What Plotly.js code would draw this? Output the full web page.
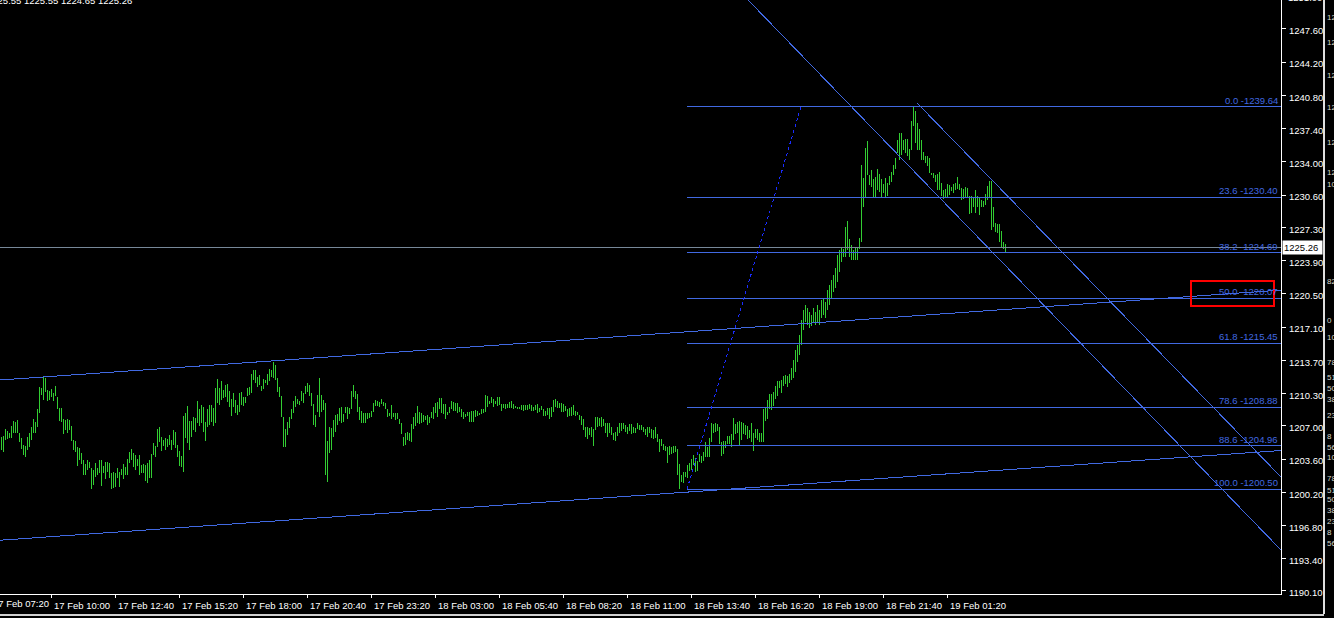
<!DOCTYPE html>
<html>
<head>
<meta charset="utf-8">
<script src="https://cdn.plot.ly/plotly-3.0.1.min.js"></script>
<style>
  html, body { margin: 0; padding: 0; background: #000; }
  #chart { width: 1334px; height: 618px; }
  .main-svg path { shape-rendering: crispEdges; }
</style>
</head>
<body>
<div id="chart"></div>
<script>
// ---------------- DATA ----------------
const highs = [
1205.85,1205.95,1206.67,1206.47,1206.26,1206.98,1207.49,1207.39,1207.59,1206.26,
1205.75,1205.04,1204.93,1205.85,1206.26,1206.88,1207.69,1207.39,1208.72,1210.97,
1210.87,1211.99,1211.89,1210.66,1210.56,1210.77,1210.36,1211.07,1209.95,1208.82,
1208.82,1207.69,1207.59,1207.69,1207.59,1206.98,1205.55,1205.44,1204.83,1204.73,
1204.21,1203.50,1203.09,1203.50,1203.30,1202.68,1202.48,1203.19,1202.68,1203.50,
1203.50,1202.89,1203.30,1203.30,1203.19,1202.17,1202.27,1202.17,1202.68,1202.27,
1202.58,1203.09,1202.79,1203.60,1204.32,1204.62,1204.21,1204.01,1203.60,1204.01,
1202.99,1203.09,1202.99,1203.19,1203.50,1204.11,1205.24,1204.93,1206.67,1206.88,
1205.85,1205.55,1205.75,1205.65,1206.06,1205.55,1206.57,1206.37,1205.04,1204.42,
1203.91,1208.00,1208.31,1209.03,1207.49,1207.49,1207.90,1207.80,1209.54,1208.72,
1209.13,1208.92,1207.39,1208.72,1209.13,1209.13,1208.82,1210.87,1211.79,1210.87,
1211.58,1210.66,1211.17,1211.28,1210.56,1209.74,1210.36,1209.64,1209.13,1210.36,
1210.46,1209.95,1209.95,1210.87,1210.97,1212.30,1212.71,1212.71,1211.99,1212.20,
1211.07,1211.79,1211.69,1212.30,1212.81,1212.71,1213.53,1213.22,1211.89,1210.97,
1210.05,1207.90,1206.67,1207.39,1207.90,1208.72,1209.54,1210.05,1209.74,1209.54,
1210.56,1210.36,1211.07,1211.38,1211.17,1210.36,1209.23,1208.10,1210.15,1211.89,
1210.15,1209.64,1209.33,1205.44,1206.88,1206.77,1207.59,1208.10,1208.21,1208.82,
1208.92,1208.21,1208.92,1208.92,1208.82,1210.56,1211.17,1210.56,1210.25,1208.92,
1208.51,1208.31,1208.31,1208.31,1208.31,1208.51,1209.33,1209.64,1209.54,1209.44,
1209.74,1209.44,1209.33,1208.72,1208.31,1209.13,1208.31,1208.31,1208.31,1207.69,
1207.29,1205.85,1206.26,1206.37,1206.26,1207.18,1207.90,1208.31,1209.03,1208.41,
1208.31,1208.10,1208.00,1208.10,1207.90,1208.41,1208.92,1209.33,1209.44,1209.84,
1209.84,1209.23,1209.23,1208.41,1208.92,1209.54,1209.44,1209.33,1209.33,1208.92,
1208.72,1208.41,1208.21,1208.41,1208.41,1208.51,1208.51,1208.62,1208.51,1208.31,
1208.72,1208.72,1210.15,1210.05,1209.54,1209.95,1209.74,1209.54,1209.95,1209.95,
1209.23,1209.23,1209.23,1209.23,1209.44,1209.54,1209.23,1209.03,1208.92,1208.92,
1209.13,1209.13,1209.13,1209.13,1209.23,1209.13,1208.92,1209.13,1209.23,1208.82,
1209.03,1208.72,1208.51,1208.82,1208.82,1208.92,1209.64,1209.74,1209.54,1209.33,
1209.33,1209.23,1209.03,1208.72,1208.82,1208.92,1209.13,1208.51,1208.41,1208.10,
1208.00,1207.69,1206.88,1206.88,1206.77,1206.88,1206.67,1207.90,1207.90,1207.80,
1207.90,1207.69,1207.29,1207.29,1207.29,1206.88,1206.26,1206.37,1206.88,1207.29,
1207.29,1207.29,1207.08,1206.88,1207.18,1207.18,1206.88,1206.77,1207.29,1207.08,
1207.08,1206.88,1206.67,1206.88,1206.88,1206.67,1206.57,1206.88,1206.16,1205.65,
1205.65,1205.14,1204.93,1204.83,1204.93,1204.83,1204.93,1204.93,1204.62,1203.09,
1201.97,1202.27,1202.27,1202.99,1203.19,1203.60,1204.01,1203.70,1203.40,1204.11,
1203.91,1204.32,1205.34,1204.83,1205.75,1207.29,1207.18,1207.29,1207.18,1206.88,
1205.34,1205.44,1205.44,1205.96,1205.96,1206.16,1207.80,1207.18,1207.39,1207.49,
1207.39,1207.29,1207.08,1206.98,1206.57,1207.29,1206.26,1206.67,1206.67,1206.26,
1206.26,1208.72,1208.92,1209.64,1210.25,1210.25,1210.46,1211.07,1211.58,1211.58,
1211.69,1212.10,1212.20,1212.10,1212.30,1212.91,1213.73,1214.75,1215.27,1216.29,
1217.82,1218.85,1219.36,1219.05,1218.64,1218.33,1219.05,1218.64,1219.36,1218.85,
1219.87,1220.07,1219.66,1220.89,1221.40,1221.92,1222.43,1223.14,1224.47,1224.99,
1225.19,1225.09,1227.34,1227.95,1226.11,1225.50,1224.99,1225.29,1225.19,1226.21,
1233.68,1232.35,1235.42,1236.14,1232.66,1233.17,1232.25,1232.45,1233.27,1232.76,
1232.25,1231.74,1232.35,1231.84,1232.55,1232.96,1233.68,1234.40,1236.24,1236.95,
1236.95,1236.24,1236.34,1236.34,1235.32,1238.18,1239.64,1239.20,1237.98,1237.36,
1236.24,1235.01,1234.60,1234.60,1234.40,1232.86,1232.86,1232.66,1232.76,1232.96,
1231.84,1231.12,1231.22,1231.74,1231.63,1231.43,1231.74,1231.84,1232.45,1231.74,
1231.33,1231.22,1231.43,1231.33,1230.51,1230.51,1230.41,1231.12,1230.51,1230.41,
1230.10,1229.99,1230.71,1231.53,1232.04,1232.04,1229.38,1227.75,1227.65,1227.65,
1226.93,1225.80,1225.55
];
const lows = [
1204.52,1204.32,1205.55,1205.65,1205.75,1205.75,1206.26,1206.26,1206.26,1205.34,
1204.62,1204.01,1203.81,1204.52,1204.83,1205.55,1206.26,1206.26,1206.88,1208.31,
1210.15,1209.64,1210.46,1209.54,1209.64,1209.95,1209.54,1210.05,1208.72,1207.49,
1207.39,1206.16,1206.57,1206.26,1206.57,1205.44,1204.52,1204.32,1202.89,1203.50,
1203.09,1201.97,1201.97,1202.48,1202.68,1200.53,1200.94,1201.76,1201.97,1202.17,
1200.84,1202.17,1201.56,1202.27,1201.66,1200.53,1200.64,1200.74,1201.66,1200.74,
1201.97,1201.56,1201.97,1201.97,1203.19,1203.50,1202.79,1202.48,1202.89,1201.97,
1202.17,1202.17,1201.35,1201.15,1201.66,1201.66,1204.01,1203.81,1204.83,1205.34,
1204.42,1204.93,1204.52,1204.83,1205.04,1204.52,1205.04,1204.73,1203.81,1202.89,
1202.79,1202.27,1205.75,1205.24,1204.52,1205.85,1206.57,1206.37,1207.29,1206.98,
1207.29,1206.37,1205.44,1206.88,1207.08,1207.39,1206.98,1207.29,1209.33,1209.13,
1209.64,1209.84,1209.95,1209.44,1208.92,1208.00,1208.92,1208.31,1208.10,1208.41,
1209.13,1209.03,1209.33,1210.05,1210.15,1210.36,1211.69,1211.38,1210.97,1211.17,
1210.56,1210.77,1211.38,1211.17,1211.58,1211.99,1211.89,1211.69,1210.46,1209.95,
1207.90,1204.83,1204.83,1206.06,1206.77,1207.69,1208.31,1208.92,1209.23,1209.13,
1209.54,1209.33,1210.25,1210.46,1210.05,1209.03,1207.08,1206.88,1208.41,1207.90,
1208.41,1208.62,1201.97,1201.25,1204.21,1204.52,1205.85,1206.37,1207.08,1207.49,
1207.29,1207.39,1208.31,1207.69,1208.21,1208.72,1209.95,1209.74,1208.41,1207.59,
1207.29,1207.29,1207.29,1207.69,1207.80,1207.90,1208.41,1209.03,1209.03,1208.92,
1209.23,1209.03,1208.72,1207.90,1208.00,1207.69,1207.90,1207.59,1207.69,1207.18,
1206.16,1204.93,1205.04,1205.55,1205.44,1205.34,1206.67,1206.98,1207.29,1207.18,
1207.29,1207.39,1207.59,1207.08,1207.29,1207.80,1207.69,1208.31,1207.90,1208.72,
1208.31,1208.21,1207.69,1208.10,1208.31,1208.72,1208.51,1208.51,1208.31,1208.41,
1207.90,1207.69,1207.90,1208.00,1207.39,1207.39,1207.39,1207.90,1208.00,1208.10,
1208.21,1208.31,1208.41,1208.92,1209.23,1209.33,1208.92,1209.23,1209.03,1209.13,
1208.51,1208.82,1208.72,1208.82,1208.82,1208.82,1208.72,1208.82,1208.72,1208.72,
1208.62,1208.51,1208.62,1208.62,1208.72,1208.51,1208.51,1208.62,1208.31,1208.41,
1208.62,1208.00,1208.00,1208.10,1207.69,1207.90,1208.41,1208.92,1208.82,1208.82,
1208.41,1208.41,1208.51,1207.90,1208.00,1208.00,1208.10,1208.00,1208.10,1207.59,
1207.08,1206.57,1205.85,1205.65,1206.06,1205.85,1204.93,1206.57,1206.88,1206.98,
1206.88,1206.98,1206.26,1205.85,1206.26,1206.06,1205.55,1205.44,1205.96,1206.26,
1206.47,1206.67,1206.37,1206.16,1206.47,1206.16,1206.26,1206.26,1206.67,1206.57,
1206.57,1206.37,1206.06,1205.85,1206.26,1205.75,1205.65,1205.75,1205.34,1204.32,
1204.93,1204.52,1204.42,1203.19,1204.01,1204.11,1204.21,1204.32,1201.97,1200.50,
1201.25,1201.15,1201.76,1201.66,1202.38,1202.48,1202.99,1202.27,1202.38,1203.30,
1203.19,1203.40,1203.81,1203.81,1203.81,1205.34,1206.26,1206.37,1206.47,1205.14,
1203.91,1204.11,1204.73,1205.14,1205.14,1204.83,1205.55,1206.16,1206.26,1204.93,
1205.55,1206.16,1206.06,1205.65,1205.75,1205.34,1204.42,1205.75,1205.55,1205.34,
1205.34,1205.34,1207.49,1207.69,1208.72,1208.62,1209.03,1209.74,1210.05,1210.87,
1210.36,1211.07,1211.28,1210.97,1211.38,1211.69,1211.89,1212.50,1213.53,1214.24,
1215.27,1216.80,1217.62,1217.31,1217.00,1217.21,1217.62,1217.31,1217.62,1217.31,
1218.03,1218.33,1218.03,1218.85,1219.36,1220.07,1220.69,1221.10,1221.71,1222.73,
1223.76,1224.27,1224.27,1224.99,1224.27,1223.96,1223.96,1223.96,1223.96,1225.09,
1225.80,1229.38,1230.30,1232.66,1231.63,1231.43,1230.41,1230.41,1231.12,1230.92,
1230.41,1230.82,1230.41,1230.51,1231.63,1231.94,1232.66,1233.27,1234.91,1234.19,
1234.70,1235.21,1234.91,1234.60,1234.19,1235.21,1237.67,1235.93,1235.21,1235.21,
1234.19,1234.19,1233.88,1233.57,1232.86,1232.66,1232.35,1231.94,1231.12,1231.12,
1230.51,1230.20,1230.30,1230.41,1230.61,1231.02,1230.82,1231.12,1231.22,1231.12,
1230.10,1230.20,1230.30,1230.41,1228.67,1228.77,1229.38,1228.77,1229.38,1228.57,
1229.38,1229.38,1229.59,1230.10,1230.41,1227.03,1227.34,1226.82,1226.72,1225.80,
1225.29,1225.09,1224.65
];

const timeLabels = ['17 Feb 10:00','17 Feb 12:40','17 Feb 15:20','17 Feb 18:00','17 Feb 20:40',
  '17 Feb 23:20','18 Feb 03:00','18 Feb 05:40','18 Feb 08:20','18 Feb 11:00','18 Feb 13:40',
  '18 Feb 16:20','18 Feb 19:00','18 Feb 21:40','19 Feb 01:20'];
const cutLabel = '17 Feb 07:20';
const firstLabelBar = 25;
const barsPerLabel = 32;

const priceTicks = [1190.10,1193.40,1196.80,1200.20,1203.60,1207.00,1210.30,1213.70,1217.10,
  1220.50,1223.90,1227.30,1230.60,1234.00,1237.40,1240.80,1244.20,1247.60];
const cutTopTick = '1251.00';

const fibLevels = [0.0, 23.6, 38.2, 50.0, 61.8, 78.6, 88.6, 100.0];
const fibHigh = 1239.64;
const fibLow = 1200.50;
const fibLowBar = 343;
const fibHighBar = 400;

const bidPrice = 1225.26;
const ohlcText = '1225.55 1225.55 1224.65 1225.26';

// trend lines: [bar, price] anchor pairs
const upperChannelBars = [-0.5, 640];
const upperChannelPrices = [1211.68, 1220.88];
const lowerChannelBars = [-0.5, 640];
const lowerChannelPrices = [1195.29, 1204.47];
const downLineABars = [373.5, 640];
const downLineAPrices = [1250.56, 1194.29];
const downLineBBars = [458, 640];
const downLineBPrices = [1240.02, 1201.76];

// highlight box (bars, prices)
const boxBars = [595, 636.5];
const boxPrices = [1219.26, 1221.81];

// neighbouring window fragments (text, row)
const sideTexts = ['12','12','12','12','12','12','10','82','0','10','78','51','50','38','23','8','56','10','78','51','50','38','23','8','56'];
const sideRows  = [18,42,75,108,142,172,185,282,320,337,362,377,388,399,416,436,447,458,478,490,500,510,521,532,543];

// ---------------- BUILD ----------------
const xRange = [-0.5, 640];
const yRange = [1189.79, 1250.556];
const FONT = 'Liberation Sans, Arial, sans-serif';
const blue = '#4169E1';

const bx = [], by = [];
for (let i = 0; i < highs.length; i++) {
  bx.push(i, i, null);
  by.push(lows[i], highs[i], null);
}

const traces = [];
traces.push({type:'scatter', mode:'lines', x:bx, y:by, line:{color:'#32CD32', width:1},
  hoverinfo:'skip', connectgaps:false});

// bid line
traces.push({type:'scatter', mode:'lines', x:xRange, y:[bidPrice, bidPrice],
  line:{color:'#778899', width:1}, hoverinfo:'skip'});

// fib levels
const fibPrice = l => fibHigh - (fibHigh - fibLow) * l / 100;
fibLevels.forEach(l => {
  const p = fibPrice(l);
  traces.push({type:'scatter', mode:'lines', x:[fibLowBar, xRange[1]], y:[p, p],
    line:{color:blue, width:1}, hoverinfo:'skip'});
});
// fib base line
traces.push({type:'scatter', mode:'lines', x:[fibLowBar, fibHighBar], y:[fibLow, fibHigh],
  line:{color:'#1a2cff', width:1, dash:'dot'}, hoverinfo:'skip'});

// trend lines
[[upperChannelBars, upperChannelPrices], [lowerChannelBars, lowerChannelPrices],
 [downLineABars, downLineAPrices], [downLineBBars, downLineBPrices]].forEach(([xs, ys]) => {
  traces.push({type:'scatter', mode:'lines', x:xs, y:ys, line:{color:blue, width:1}, hoverinfo:'skip'});
});

const plotW = 1281, plotH = 594;
const px2paperX = px => px / plotW;
const px2paperY = py => (plotH - py) / plotH;

const annotations = [];
fibLevels.forEach(l => {
  const p = fibPrice(l);
  annotations.push({xref:'paper', x:px2paperX(1279), xanchor:'right', yref:'y', y:p, yanchor:'bottom',
    yshift:0, text:l.toFixed(1) + ' -' + p.toFixed(2), showarrow:false,
    font:{family:FONT, size:9.5, color:blue}, borderpad:0});
});
annotations.push({xref:'paper', x:px2paperX(1282), xanchor:'left', yref:'y', y:bidPrice, yanchor:'middle',
  text:bidPrice.toFixed(2), showarrow:false, bgcolor:'#ffffff', borderpad:1,
  font:{family:FONT, size:9.5, color:'#000000'}, width:37, align:'left'});
annotations.push({xref:'paper', x:px2paperX(133), xanchor:'right', yref:'paper', y:px2paperY(0.5),
  yanchor:'middle', text:ohlcText, showarrow:false, font:{family:FONT, size:9.5, color:'#ffffff'}, borderpad:0});
annotations.push({xref:'paper', x:px2paperX(-8), xanchor:'left', yref:'paper', y:px2paperY(603),
  yanchor:'middle', text:cutLabel, showarrow:false, font:{family:FONT, size:9.5, color:'#ffffff'}, borderpad:0});
annotations.push({xref:'paper', x:px2paperX(1287), xanchor:'left', yref:'paper', y:px2paperY(-2),
  yanchor:'middle', text:cutTopTick, showarrow:false, font:{family:FONT, size:9.5, color:'#ffffff'}, borderpad:0});
sideTexts.forEach((t, k) => {
  annotations.push({xref:'paper', x:px2paperX(1326), xanchor:'left', yref:'paper', y:px2paperY(sideRows[k]),
    yanchor:'middle', text:t, showarrow:false, font:{family:FONT, size:8, color:'#d8d8c8'}, borderpad:0});
});

const shapes = [
  {type:'rect', xref:'x', yref:'y', x0:boxBars[0], x1:boxBars[1], y0:boxPrices[0], y1:boxPrices[1],
   line:{color:'#ff0000', width:2}},
  {type:'line', xref:'paper', yref:'paper', x0:px2paperX(1324), x1:px2paperX(1324), y0:px2paperY(614), y1:px2paperY(-5),
   line:{color:'#e0e0e0', width:2}},
  {type:'line', xref:'paper', yref:'paper', x0:px2paperX(0), x1:px2paperX(1324), y0:px2paperY(615), y1:px2paperY(615),
   line:{color:'#d0d0d0', width:1.5}}
];

const layout = {
  width:1334, height:618,
  paper_bgcolor:'#000000', plot_bgcolor:'#000000',
  margin:{l:0, r:53, t:0, b:24, pad:0},
  showlegend:false,
  font:{family:FONT, size:9.5, color:'#ffffff'},
  xaxis:{range:xRange, showgrid:false, zeroline:false, showline:true, linecolor:'#ffffff', linewidth:1,
    ticks:'outside', ticklen:3, tickcolor:'#ffffff', tickwidth:1,
    tickvals:timeLabels.map((_, k) => firstLabelBar + k * barsPerLabel), ticktext:timeLabels,
    tickfont:{family:FONT, size:9.5, color:'#ffffff'}, tickangle:0, ticklabelshift:31, ticklabelstandoff:0,
    fixedrange:true},
  yaxis:{range:yRange, side:'right', showgrid:false, zeroline:false, showline:true, linecolor:'#ffffff', linewidth:1,
    ticks:'outside', ticklen:4, tickcolor:'#ffffff', tickwidth:1,
    tickvals:priceTicks, ticktext:priceTicks.map(v => v.toFixed(2)),
    tickfont:{family:FONT, size:9.5, color:'#ffffff'}, ticklabelshift:2, ticklabelstandoff:1,
    fixedrange:true},
  annotations:annotations,
  shapes:shapes
};

Plotly.newPlot('chart', traces, layout, {displayModeBar:false, staticPlot:true});
</script>
</body>
</html>
